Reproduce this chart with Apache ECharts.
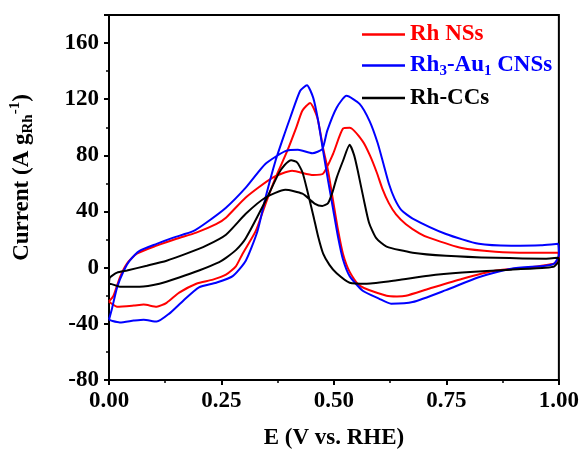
<!DOCTYPE html>
<html>
<head>
<meta charset="utf-8">
<script src="https://cdn.jsdelivr.net/npm/echarts@6/dist/echarts.min.js"></script>
<style>
  html, body { margin: 0; padding: 0; background: #fff; }
  #chart { width: 582px; height: 455px; }
</style>
</head>
<body>
<div id="chart"></div>
<script>
// CV curves, [E (V vs. RHE), current (A g_Rh^-1)], forward sweep then backward sweep
const rhNSs = [
  [0.000, -24], [0.010, -20], [0.024, -7], [0.040, 3], [0.062, 10], [0.106, 15.7], [0.150, 20.6],
  [0.194, 25], [0.238, 31], [0.260, 35.6], [0.304, 50], [0.363, 64], [0.407, 69], [0.454, 66],
  [0.476, 67], [0.498, 81], [0.520, 99], [0.535, 99.6], [0.564, 90], [0.580, 80], [0.595, 68],
  [0.608, 56], [0.622, 46], [0.638, 38], [0.660, 31], [0.690, 24.5], [0.711, 21.4],
  [0.784, 14], [0.859, 11.4], [0.932, 10.7], [0.998, 10.7], [1.000, 7],
  [0.990, 3], [0.930, 0], [0.860, -2], [0.784, -8], [0.711, -15], [0.660, -20], [0.640, -20.5],
  [0.617, -20], [0.557, -12.8], [0.535, -3], [0.520, 10], [0.509, 27], [0.498, 48], [0.487, 69],
  [0.476, 85], [0.463, 107], [0.447, 117.4], [0.430, 112], [0.416, 99.6], [0.396, 83], [0.370, 64],
  [0.348, 45.5], [0.326, 26], [0.297, 10], [0.282, 1], [0.260, -5], [0.231, -8.5], [0.194, -11.4],
  [0.156, -17.8], [0.128, -25], [0.106, -27.8], [0.077, -26.3], [0.055, -27], [0.018, -27.8],
  [0.003, -25], [0.000, -24]
];

const rh3Au1CNSs = [
  [0.000, -37], [0.006, -30], [0.018, -14], [0.033, -2], [0.046, 5], [0.068, 12], [0.106, 17],
  [0.143, 21.4], [0.187, 26], [0.216, 32], [0.260, 42.7], [0.304, 57], [0.348, 74], [0.392, 83],
  [0.420, 84], [0.452, 81.5], [0.474, 84.5], [0.485, 97.5], [0.506, 114], [0.528, 122.4],
  [0.557, 116.7], [0.579, 104.6], [0.597, 89], [0.610, 74], [0.622, 60], [0.635, 49], [0.650, 41],
  [0.675, 35], [0.749, 24], [0.822, 17], [0.894, 15.7], [0.960, 16], [0.998, 17], [1.000, 9],
  [0.990, 3], [0.970, 1.4], [0.894, -0.7], [0.820, -7], [0.749, -16], [0.675, -24.5], [0.627, -25.6],
  [0.600, -22], [0.564, -16.4], [0.535, -6], [0.520, 6], [0.509, 22], [0.498, 42], [0.487, 62],
  [0.476, 83], [0.465, 104.6], [0.454, 121], [0.440, 130], [0.425, 126], [0.403, 107], [0.392, 97],
  [0.370, 76], [0.348, 50], [0.330, 26], [0.304, 5], [0.275, -6], [0.238, -10.7], [0.200, -14],
  [0.165, -23.5], [0.134, -32.7], [0.106, -38.4], [0.077, -37], [0.055, -37.7], [0.024, -39],
  [0.008, -38], [0.000, -37]
];

const rhCCs = [
  [0.000, -12], [0.002, -7], [0.018, -3.5], [0.040, -2], [0.084, 1.4], [0.128, 5], [0.172, 10],
  [0.216, 15.7], [0.260, 23.5], [0.304, 38.4], [0.348, 50], [0.392, 55.5], [0.430, 52.7],
  [0.458, 45.5], [0.474, 44], [0.487, 46], [0.497, 54], [0.506, 64], [0.520, 76], [0.535, 87.5],
  [0.545, 80], [0.553, 69], [0.566, 49], [0.578, 32], [0.594, 21], [0.617, 15], [0.675, 10.7],
  [0.749, 8.5], [0.860, 7], [0.970, 6.4], [0.998, 7], [1.000, 5],
  [0.990, 1], [0.970, 0], [0.894, -1.4], [0.785, -3.5], [0.710, -5.7], [0.640, -9], [0.573, -11.4],
  [0.535, -10.7], [0.506, -4], [0.490, 2], [0.476, 10], [0.465, 22], [0.455, 36], [0.443, 52],
  [0.430, 68], [0.418, 75], [0.405, 76.5], [0.390, 73], [0.377, 67], [0.348, 47.7], [0.304, 21],
  [0.282, 12.5], [0.260, 7], [0.245, 4], [0.200, -2], [0.156, -7], [0.112, -11.4], [0.068, -13.5],
  [0.024, -13.5], [0.002, -11.4], [0.000, -12]
];

const seriesNames = ["Rh NSs", "Rh3-Au1 CNSs", "Rh-CCs"];
const seriesColors = ["#ff0000", "#0000ff", "#000000"];

const FONT = "'Times New Roman', 'Liberation Serif', serif";
const FS = 23;

const chart = echarts.init(document.getElementById("chart"), null, { renderer: "canvas" });

const mkSeries = (name, data, color) => ({
  name,
  type: "line",
  data,
  showSymbol: false,
  symbol: "none",
  smooth: 0.2,
  lineStyle: { color, width: 2 },
  itemStyle: { color },
  clip: true,
});

chart.setOption({
  animation: false,
  grid: {
    left: 107, right: 21, top: 15, bottom: 75,
    show: true, borderColor: "#000", borderWidth: 2,
  },
  legend: {
    orient: "vertical",
    left: 362,
    top: 23,
    padding: 0,
    icon: "rect",
    itemWidth: 43,
    itemHeight: 2.5,
    itemGap: 8,
    data: seriesNames,
    formatter: (name) => {
      if (name === "Rh NSs") return "{r|Rh NSs}";
      if (name === "Rh3-Au1 CNSs") return "{b|Rh}{bs|3}{b|-Au}{bs|1}{b| CNSs}";
      return "{k|Rh-CCs}";
    },
    textStyle: {
      fontFamily: FONT,
      fontWeight: "bold",
      fontSize: FS,
      rich: {
        r: { color: "#ff0000", fontFamily: FONT, fontWeight: "bold", fontSize: FS, lineHeight: 26 },
        b: { color: "#0000ff", fontFamily: FONT, fontWeight: "bold", fontSize: FS, lineHeight: 26 },
        bs: { color: "#0000ff", fontFamily: FONT, fontWeight: "bold", fontSize: 15, lineHeight: 14, verticalAlign: "bottom" },
        k: { color: "#000000", fontFamily: FONT, fontWeight: "bold", fontSize: FS, lineHeight: 26 },
      },
    },
  },
  xAxis: {
    type: "value",
    min: 0,
    max: 1,
    interval: 0.25,
    name: "E (V vs. RHE)",
    nameLocation: "middle",
    nameGap: 47,
    nameTextStyle: { fontFamily: FONT, fontWeight: "bold", fontSize: FS, color: "#000" },
    axisLine: { show: true, onZero: false, lineStyle: { color: "#000", width: 2 } },
    axisTick: { show: true, length: 5, lineStyle: { color: "#000", width: 2 } },
    minorTick: { show: true, splitNumber: 2, length: 3, lineStyle: { color: "#000", width: 1.5 } },
    axisLabel: {
      color: "#000", fontFamily: FONT, fontWeight: "bold", fontSize: FS, margin: 10,
      formatter: (v) => v.toFixed(2),
    },
    splitLine: { show: false },
  },
  yAxis: {
    type: "value",
    min: -80,
    max: 180,
    interval: 40,
    name: "{m|Current (A g}{s|Rh}{p|-1}{m|)}",
    nameLocation: "middle",
    nameRotate: 90,
    nameGap: 73,
    nameTextStyle: {
      fontFamily: FONT, fontWeight: "bold", fontSize: FS, color: "#000",
      padding: [0, 0, 0, 40],
      rich: {
        m: { fontFamily: FONT, fontWeight: "bold", fontSize: FS, lineHeight: 28, color: "#000" },
        s: { fontFamily: FONT, fontWeight: "bold", fontSize: 15, lineHeight: 14, verticalAlign: "bottom", color: "#000" },
        p: { fontFamily: FONT, fontWeight: "bold", fontSize: 15, lineHeight: 14, verticalAlign: "top", color: "#000" },
      },
    },
    axisLine: { show: true, onZero: false, lineStyle: { color: "#000", width: 2 } },
    axisTick: { show: true, length: 5, lineStyle: { color: "#000", width: 2 } },
    minorTick: { show: true, splitNumber: 2, length: 3, lineStyle: { color: "#000", width: 1.5 } },
    axisLabel: {
      color: "#000", fontFamily: FONT, fontWeight: "bold", fontSize: FS, margin: 10,
      showMaxLabel: false,
    },
    splitLine: { show: false },
  },
  series: [
    mkSeries(seriesNames[0], rhNSs, seriesColors[0]),
    mkSeries(seriesNames[1], rh3Au1CNSs, seriesColors[1]),
    mkSeries(seriesNames[2], rhCCs, seriesColors[2]),
  ],
});
</script>
</body>
</html>
